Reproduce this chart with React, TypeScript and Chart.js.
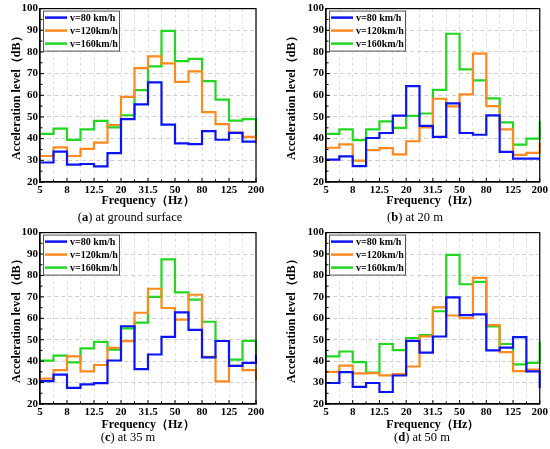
import React, { useEffect, useRef } from 'react';
import { Chart, registerables } from 'chart.js';

Chart.register(...registerables);

const FONT = "'Liberation Serif', 'Times New Roman', serif";

const frequencies = ['5', '6.3', '8', '10', '12.5', '16', '20', '25', '31.5', '40', '50', '63', '80', '100', '125', '160', '200'];
const seriesLabels = ['v=80 km/h', 'v=120km/h', 'v=160km/h'];
const seriesColors = ['#0a14f5', '#ff8a1f', '#22d622'];

// (a) at ground surface
const groundV80 = [29, 34, 28, 28.3, 27.2, 33.3, 49, 55.8, 66, 46.5, 37.8, 37.5, 43.5, 39.5, 42.7, 38.6, 38.6];
const groundV120 = [32, 36, 32, 35.3, 38.2, 46.3, 59.3, 72.5, 78, 74.7, 66.2, 71, 52.2, 46.7, 42.8, 40.8, 38];
const groundV160 = [42.2, 44.6, 39.4, 44.3, 48.2, 45.2, 50.8, 62.4, 73.3, 89.7, 75.8, 76.8, 66.5, 58, 48.3, 49, 38.5];

// (b) at 20 m
const m20V80 = [30.3, 31.8, 27.3, 40.3, 42.6, 50.6, 64.2, 45.9, 40.8, 56.3, 42.6, 41.8, 50.7, 33.9, 30.8, 30.8, 30.8];
const m20V120 = [35.8, 37.4, 29.9, 34.7, 35.6, 32.7, 38.8, 45.2, 58.4, 54.9, 60.4, 79.2, 55, 44.3, 32.5, 33.4, 38];
const m20V160 = [42.2, 44.3, 39.3, 44.3, 48, 45, 50.5, 51.6, 62.5, 88.4, 72, 66.9, 58.6, 47.5, 37.2, 40, 48];

// (c) at 35 m
const m35V80 = [30.7, 33.7, 27.5, 29.2, 29.7, 40.3, 56.3, 36.3, 43.1, 51.3, 62.8, 54.6, 41.8, 49.4, 37.8, 39.2, 43];
const m35V120 = [31.8, 35.8, 42.2, 35.2, 38.2, 46.2, 49.3, 62.6, 73.8, 64.8, 59.4, 71, 42, 30.6, 37.8, 35.8, 31];
const m35V160 = [40.2, 42.6, 39.4, 46, 49, 45.4, 55.3, 58, 70, 87.5, 72.1, 68.7, 58.4, 49.4, 40.7, 49.5, 43];

// (d) at 50 m
const m50V80 = [29.8, 34.9, 28, 29.8, 25.6, 33.3, 49.5, 44, 51.5, 69.8, 61.5, 61.8, 45, 46.3, 51.2, 35.2, 27.5];
const m50V120 = [35, 37.9, 34.3, 34.4, 33.4, 34, 37.5, 51.6, 65.1, 61.3, 60.1, 78.9, 56.8, 44.2, 35.3, 36, 36];
const m50V160 = [42.2, 44.5, 39.5, 34.7, 48, 45.1, 50.8, 52.2, 63.3, 89.6, 75.9, 77, 56.2, 48, 38.5, 39.2, 49];

// frame around the plot area + inward tick marks
const framePlugin = {
  id: 'frame',
  afterDraw(chart: Chart) {
    const { ctx, chartArea: a } = chart;
    const x = chart.scales.x;
    const y = chart.scales.y;
    ctx.save();
    ctx.strokeStyle = '#000';
    ctx.lineWidth = 1.2;
    ctx.strokeRect(a.left, a.top, a.right - a.left, a.bottom - a.top);
    ctx.lineWidth = 1;
    ctx.beginPath();
    frequencies.forEach((_, i) => {
      const px = x.getPixelForValue(i);
      const len = i % 2 === 0 ? 4 : 2.5;
      ctx.moveTo(px, a.bottom);
      ctx.lineTo(px, a.bottom - len);
    });
    for (let v = 20; v <= 100; v += 5) {
      const py = y.getPixelForValue(v);
      const len = v % 10 === 0 ? 4 : 2.5;
      ctx.moveTo(a.left, py);
      ctx.lineTo(a.left + len, py);
    }
    ctx.stroke();
    ctx.restore();
  },
};

// boxed legend in the top-left corner of the plot area
const boxLegendPlugin = {
  id: 'boxLegend',
  afterDraw(chart: Chart) {
    const { ctx, chartArea: a } = chart;
    const bx = a.left + 3;
    const by = a.top + 2;
    const w = 76;
    const h = 40;
    ctx.save();
    ctx.fillStyle = '#fff';
    ctx.fillRect(bx, by, w, h);
    ctx.strokeStyle = '#555';
    ctx.lineWidth = 1;
    ctx.strokeRect(bx + 0.5, by + 0.5, w, h);
    ctx.font = `bold 10px ${FONT}`;
    ctx.textBaseline = 'middle';
    chart.data.datasets.forEach((ds, i) => {
      const ry = by + 7 + i * 13;
      ctx.strokeStyle = ds.borderColor as string;
      ctx.lineWidth = 2.5;
      ctx.beginPath();
      ctx.moveTo(bx + 2, ry);
      ctx.lineTo(bx + 24, ry);
      ctx.stroke();
      ctx.fillStyle = '#000';
      ctx.fillText(ds.label as string, bx + 27, ry + 0.5);
    });
    ctx.restore();
  },
};

interface PanelProps {
  series: number[][];
  yWidth: number;
  xHeight: number;
  padTop: number;
  padRight: number;
}

function StepPanel({ series, yWidth, xHeight, padTop, padRight }: PanelProps) {
  const canvasRef = useRef<HTMLCanvasElement>(null);

  useEffect(() => {
    if (!canvasRef.current) return;
    const chart = new Chart(canvasRef.current, {
      type: 'line',
      data: {
        labels: frequencies,
        datasets: series.map((values, i) => ({
          label: seriesLabels[i],
          data: values,
          borderColor: seriesColors[i],
          backgroundColor: seriesColors[i],
          borderWidth: 2.2,
          stepped: true,
          pointRadius: 0,
          fill: false,
        })),
      },
      plugins: [framePlugin, boxLegendPlugin],
      options: {
        animation: false,
        responsive: true,
        maintainAspectRatio: false,
        layout: { padding: { top: padTop, right: padRight, left: 0, bottom: 0 } },
        plugins: {
          legend: { display: false },
          tooltip: { enabled: false },
        },
        scales: {
          x: {
            type: 'category',
            offset: false,
            afterFit: (scale) => {
              scale.height = xHeight;
            },
            grid: { color: '#d6d6d6', lineWidth: 0.8, drawTicks: false },
            border: { color: '#000', width: 1.2, dash: [3, 3] },
            ticks: {
              autoSkip: false,
              maxRotation: 0,
              padding: 2,
              color: '#000',
              font: { family: FONT, size: 11, weight: 'bold' },
              callback: (_v, i) => (i % 2 === 0 ? frequencies[i] : ''),
            },
            title: {
              display: true,
              text: 'Frequency（Hz）',
              color: '#000',
              font: { family: FONT, size: 12, weight: 'bold' },
              padding: { top: 0, bottom: 4 },
            },
          },
          y: {
            min: 20,
            max: 100,
            afterFit: (scale) => {
              scale.width = yWidth;
            },
            grid: {
              color: (c) => (c.tick && c.tick.value % 10 === 0 ? '#c4c4c4' : '#e6e6e6'),
              lineWidth: 0.8,
              drawTicks: false,
            },
            border: { color: '#000', width: 1.2, dash: [4, 3] },
            ticks: {
              stepSize: 5,
              padding: 2,
              color: '#000',
              font: { family: FONT, size: 11, weight: 'bold' },
              callback: (v) => (Number(v) % 10 === 0 ? String(v) : ''),
            },
            title: {
              display: true,
              text: 'Acceleration level（dB）',
              color: '#000',
              font: { family: FONT, size: 12, weight: 'bold' },
              padding: { top: 10, bottom: 0 },
            },
          },
        },
      },
    });

    return () => {
      chart.destroy();
    };
  }, [series, yWidth, xHeight, padTop, padRight]);

  return <canvas ref={canvasRef} />;
}

const panels = [
  { key: 'a', caption: 'at ground surface', series: [groundV80, groundV120, groundV160], left: 0, top: 0, yWidth: 40, padRight: 19, padTop: 7, xHeight: 30, capCenter: 130, capTop: 209 },
  { key: 'b', caption: 'at 20 m', series: [m20V80, m20V120, m20V160], left: 275, top: 0, yWidth: 51, padRight: 10, padTop: 7, xHeight: 30, capCenter: 140, capTop: 209 },
  { key: 'c', caption: 'at 35 m', series: [m35V80, m35V120, m35V160], left: 0, top: 224, yWidth: 40, padRight: 19, padTop: 7, xHeight: 32, capCenter: 128, capTop: 429 - 224 },
  { key: 'd', caption: 'at 50 m', series: [m50V80, m50V120, m50V160], left: 275, top: 224, yWidth: 51, padRight: 10, padTop: 7, xHeight: 32, capCenter: 147, capTop: 429 - 224 },
];

export default function App() {
  useEffect(() => {
    document.body.style.margin = '0';
  }, []);

  return (
    <div style={{ position: 'relative', width: 550, height: 449, background: '#fff', overflow: 'hidden' }}>
      {panels.map((p) => (
        <div key={p.key} style={{ position: 'absolute', left: p.left, top: p.top, width: 275, height: 225 }}>
          <div style={{ position: 'absolute', left: 0, top: 0, width: 275, height: 212 }}>
            <StepPanel series={p.series} yWidth={p.yWidth} xHeight={p.xHeight} padTop={p.padTop} padRight={p.padRight} />
          </div>
          <div
            style={{
              position: 'absolute',
              left: p.capCenter - 100,
              top: p.capTop,
              width: 200,
              textAlign: 'center',
              fontFamily: FONT,
              fontSize: 12.5,
              lineHeight: '16px',
              color: '#000',
            }}
          >
            (<b>{p.key}</b>) {p.caption}
          </div>
        </div>
      ))}
    </div>
  );
}
